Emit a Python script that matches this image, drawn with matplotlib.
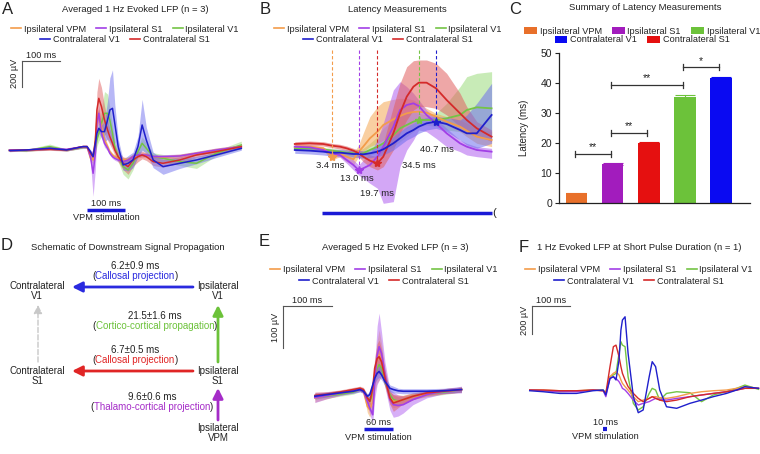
import matplotlib.pyplot as plt
from matplotlib.lines import Line2D
from matplotlib.patches import Patch

plt.rcParams['font.family'] = ['Liberation Sans', 'DejaVu Sans']
plt.rcParams['text.color'] = '#222222'
plt.rcParams['axes.labelcolor'] = '#222222'
plt.rcParams['ytick.color'] = '#222222'

W, H = 760, 454

# ---------------- data ----------------
names = ['Ipsilateral VPM', 'Ipsilateral S1', 'Ipsilateral V1', 'Contralateral V1', 'Contralateral S1']
line_col = ['#F39C4A', '#A23FE6', '#74C445', '#1F1FCC', '#D42A2A']
band_col = ['#F5A855', '#B060F0', '#9CDC7C', '#7070EE', '#E06060']
bar_col = ['#E8702A', '#A21CBD', '#6CC23A', '#0A0AF2', '#E51010']

# A: averaged 1 Hz evoked LFP (ms, uV)
t_a = [-204, -160, -98, -54, -11, 0, 9, 16, 22, 26, 31, 38, 46, 54, 60, 67, 73, 82, 95, 108,
       121, 134, 145, 156, 174, 200, 244, 288, 340, 406]
a_vpm = [0, 0, 10, 0, 26, 26, -65, -78, 78, 234, 260, 182, 78, 26, -13, -39, -52, -65, -78, -73,
         -52, -47, -39, -39, -52, -57, -47, -26, 0, 26]
a_s1 = [0, 0, 13, 5, 26, 26, -52, -182, -26, 208, 286, 130, 52, 13, -26, -52, -65, -78, -91, -78,
        -52, -39, -39, -39, -52, -52, -47, -26, 0, 26]
a_v1 = [0, -5, 26, 0, 21, 21, -26, -52, 0, 78, 130, 208, 286, 286, 234, 130, 26, -52, -130, -156,
        -104, -13, 52, 13, -52, -65, -91, -104, -26, 39]
a_cv1 = [-5, 0, 13, 0, 26, 26, -13, -52, 52, 130, 169, 143, 143, 234, 312, 325, 208, 26, -117, -104,
         -78, 26, 195, 78, -78, -130, -104, -78, -39, 13]
a_cs1 = [-5, 0, 5, 0, 26, 26, -26, -52, 78, 312, 403, 338, 234, 156, 104, 52, 0, -52, -104, -130,
         -78, -52, -39, -52, -91, -104, -78, -39, -13, 26]
a_vpm_sd = [8, 8, 8, 8, 10, 10, 20, 30, 50, 60, 60, 50, 30, 20, 15, 15, 15, 15, 20, 20,
            15, 15, 15, 15, 15, 15, 15, 15, 15, 15]
a_s1_sd = [8, 8, 8, 8, 10, 10, 40, 180, 120, 60, 60, 40, 30, 20, 15, 15, 15, 15, 15, 15,
           15, 15, 15, 15, 15, 15, 15, 15, 15, 15]
a_v1_sd = [8, 8, 20, 8, 10, 10, 15, 20, 30, 50, 60, 100, 170, 150, 100, 60, 40, 40, 60, 70,
           50, 30, 50, 40, 30, 30, 30, 40, 20, 30]
a_cv1_sd = [8, 8, 10, 8, 10, 10, 15, 20, 30, 40, 40, 50, 80, 150, 250, 300, 150, 60, 40, 60,
            60, 80, 200, 100, 60, 60, 40, 30, 20, 15]
a_cs1_sd = [8, 8, 8, 8, 10, 10, 20, 30, 60, 140, 156, 150, 110, 80, 60, 50, 40, 40, 50, 60,
            50, 40, 30, 30, 30, 30, 25, 20, 15, 15]

# B: latency measurements (ms, uV)
t_b = [-9.9, -4.5, 0.3, 3.4, 6.3, 8.7, 11.1, 13.0, 14.6, 17.0, 19.7, 21.8, 25.4, 27.8, 30.2,
       32.6, 34.5, 37.3, 40.7, 44.5, 49.3, 51.7, 55.3, 60.6]
b_vpm = [0, 0, -5, -30, -22, -30, -38, -15, 0, 25, 45, 65, 82, 92, 100, 104, 105, 102, 90, 75, 60, 48, 30, 20]
b_vpm_hi = [5, 5, 0, -20, -15, -15, -20, 5, 40, 90, 120, 135, 142, 145, 145, 140, 130, 115, 100, 90, 80, 70, 55, 45]
b_vpm_lo = [-5, -5, -10, -40, -30, -45, -55, -30, -15, 0, 10, 20, 30, 45, 55, 70, 80, 85, 80, 65, 45, 30, 10, 0]
b_s1 = [0, -2, -10, -20, -25, -40, -55, -70, -65, -55, -30, 0, 60, 110, 125, 130, 122, 95, 70, 40, 10, 0, -10, -15]
b_s1_hi = [5, 3, -5, -15, -18, -30, -40, -55, -40, -20, 20, 70, 170, 195, 180, 160, 140, 110, 85, 55, 20, 10, 0, -5]
b_s1_lo = [-5, -7, -15, -25, -32, -50, -70, -85, -95, -110, -125, -170, -165, -60, -10, 20, 50, 45, 25, 0, -15, -25, -30, -35]
b_v1 = [-5, -5, -8, -12, -15, -18, -20, -22, -20, -10, 0, 10, 35, 55, 65, 75, 80, 80, 80, 85, 95, 110, 118, 115]
b_v1_hi = [0, 0, -3, -5, -8, -10, -10, -10, -5, 10, 30, 55, 80, 95, 100, 105, 100, 95, 100, 130, 180, 210, 220, 225]
b_v1_lo = [-10, -10, -13, -18, -22, -25, -30, -32, -30, -25, -20, -15, 0, 15, 30, 45, 60, 65, 60, 50, 45, 40, 30, 20]
b_cv1 = [-10, -12, -15, -18, -18, -20, -22, -22, -23, -20, -15, -8, 10, 25, 40, 50, 60, 70, 75, 68, 50, 40, 40, 95]
b_cv1_hi = [0, -2, -5, -8, -8, -10, -12, -12, -12, -8, 0, 10, 30, 45, 60, 70, 80, 88, 90, 88, 80, 95, 130, 190]
b_cv1_lo = [-20, -22, -25, -28, -28, -30, -32, -33, -35, -33, -30, -25, -10, 5, 20, 30, 40, 50, 55, 45, 20, 5, -5, 10]
b_cs1 = [8, 10, 8, 3, 0, -5, -12, -20, -30, -42, -50, -30, 40, 100, 150, 180, 192, 192, 175, 140, 100, 80, 55, 30]
b_cs1_hi = [15, 17, 15, 10, 7, 2, -5, -10, -15, -25, -30, 10, 120, 190, 240, 258, 260, 260, 250, 220, 160, 120, 75, 50]
b_cs1_lo = [2, 3, 2, -3, -7, -12, -20, -30, -45, -60, -70, -60, -10, 40, 80, 110, 120, 120, 115, 95, 60, 45, 35, 15]
lat_ms = [3.4, 13.0, 34.5, 40.7, 19.7]          # same order as names
lat_amp = [-30, -70, 80, 75, -50]
lat_txt = ['3.4 ms', '13.0 ms', '34.5 ms', '40.7 ms', '19.7 ms']

# C: summary of latencies
c_lat = [3.2, 13.0, 20.0, 35.5, 41.6]
c_err = [0.25, 0.2, 0.35, 0.5, 0.25]
c_idx = [0, 1, 4, 2, 3]   # bar order: VPM, S1, contra S1, V1, contra V1
sig_pairs = [(0, 1), (1, 2), (1, 3), (3, 4)]
sig_h = [16.4, 23.5, 39.4, 45.2]
sig_txt = ['**', '**', '**', '*']

# D: schematic
prop_ms = ['6.2±0.9 ms', '21.5±1.6 ms', '6.7±0.5 ms', '9.6±0.6 ms']
prop_name = ['Callosal projection', 'Cortico-cortical propagation', 'Callosal projection', 'Thalamo-cortical projection']
prop_col = ['#2A2ADF', '#6CC23A', '#E02525', '#A52CC8']

# E: averaged 5 Hz evoked LFP
t_e = [-100, -76, -49, -22, -8, -1, 7, 12, 18, 22, 27, 31, 36, 43, 53, 60, 70, 80, 100, 128, 162, 199]
e_vpm = [-14, -8, -2, 3, 8, 2, -34, -42, -22, 33, 72, 88, 76, 33, -14, -22, -22, -18, -10, -5, 2, 6]
e_s1 = [-13, -8, -2, 3, 6, 2, -22, -38, -54, 25, 88, 108, 92, 41, -18, -30, -32, -30, -18, -6, 2, 6]
e_v1 = [-10, -9, -5, 0, 6, 2, -14, -22, -6, 33, 57, 65, 57, 25, -6, -18, -22, -18, -10, -5, 0, 6]
e_cv1 = [-10, -6, -2, 2, 6, 2, -10, -6, 17, 33, 45, 49, 41, 25, 9, 6, 3, 2, 2, 2, 3, 6]
e_cs1 = [-8, -5, 0, 6, 9, 6, -14, -22, 9, 57, 80, 84, 72, 33, -14, -26, -22, -18, -10, -2, 2, 6]
e_vpm_sd = [10, 8, 6, 5, 5, 5, 15, 18, 15, 30, 50, 60, 40, 20, 15, 15, 12, 10, 8, 6, 6, 6]
e_s1_sd = [12, 8, 6, 5, 5, 5, 10, 15, 20, 40, 70, 80, 50, 30, 25, 30, 25, 20, 12, 8, 6, 8]
e_v1_sd = [8, 6, 5, 5, 5, 5, 8, 10, 10, 15, 20, 20, 15, 10, 10, 12, 10, 8, 6, 6, 6, 6]
e_cv1_sd = [6, 6, 5, 5, 5, 5, 6, 8, 10, 12, 14, 14, 12, 10, 8, 8, 6, 6, 6, 6, 6, 6]
e_cs1_sd = [8, 6, 5, 5, 5, 5, 8, 10, 15, 25, 35, 40, 30, 20, 15, 20, 15, 10, 8, 6, 6, 6]

# F: 1 Hz evoked LFP, short pulse (n = 1)
t_f = [-195, -159, -115, -71, -27, 0, 7, 18, 27, 34, 42, 47, 51, 58, 66, 80, 93, 106, 122, 130,
       139, 150, 168, 195, 230, 261, 292, 327, 354, 376, 412]
f_vpm = [0, 0, -5, -5, 0, -5, -19, 94, 118, 129, 106, 71, 47, 24, 0, -47, -82, -71, -59, -47,
         -47, -54, -59, -47, -24, -12, -5, 0, 12, 24, 12]
f_s1 = [0, -5, -12, -12, 0, -5, -47, 82, 94, 82, 59, 35, 12, 0, -24, -71, -106, -94, -82, -71,
        -59, -66, -71, -59, -47, -35, -24, -12, 0, 12, 12]
f_v1 = [0, -5, -12, -7, 0, 0, -24, 94, 106, 118, 259, 341, 317, 306, 94, -94, -141, -118, -24, 12,
        0, -71, -24, -12, -19, -82, -35, -12, 12, 35, 5]
f_cv1 = [-5, -12, -24, -24, -5, 0, -35, 82, 94, 71, 212, 423, 494, 517, 259, -47, -160, -141, 94, 200,
         165, 0, -118, -129, -94, -71, -47, -24, 0, 24, 12]
f_cs1 = [0, 0, -5, -5, 0, -5, -24, 165, 306, 317, 235, 165, 118, 71, 24, -24, -59, -82, -59, -47,
         -59, -71, -82, -71, -47, -35, -24, -12, 0, 12, 12]

# ---------------- helpers ----------------
fig = plt.figure(figsize=(7.6, 4.54), dpi=100)
ov = fig.add_axes([0, 0, 1, 1], zorder=5)
ov.set_xlim(0, W)
ov.set_ylim(H, 0)
ov.axis('off')


def px_axes(x0, y0, x1, y1, xlim, ylim):
    ax = fig.add_axes([x0 / W, 1 - y1 / H, (x1 - x0) / W, (y1 - y0) / H])
    ax.set_xlim(*xlim)
    ax.set_ylim(*ylim)
    ax.axis('off')
    return ax


def legend_rows(cx, y1, y2, patches=False):
    if patches:
        hs = [Patch(facecolor=c, edgecolor='none') for c in bar_col]
    else:
        hs = [Line2D([], [], color=c, lw=1.2) for c in line_col]
    for sl, cy in ((slice(0, 3), y1), (slice(3, 5), y2)):
        fig.legend(hs[sl], names[sl], loc='center', bbox_to_anchor=(cx / W, 1 - cy / H),
                   ncol=len(names[sl]), frameon=False, fontsize=6.6,
                   handlelength=1.4 if patches else 1.1, handleheight=0.9,
                   handletextpad=0.3, columnspacing=1.1, borderpad=0, borderaxespad=0)


def draw_traces(ax, t, ys, los=None, his=None, lw=1.0, alpha=0.5):
    order = [2, 0, 1, 4, 3]
    if los is not None:
        for i in order:
            ax.fill_between(t, los[i], his[i], color=band_col[i], alpha=alpha, lw=0)
    for i in order:
        ax.plot(t, ys[i], color=line_col[i], lw=lw)


def sd_bounds(ys, sds):
    lo = [[v - s for v, s in zip(y, sd)] for y, sd in zip(ys, sds)]
    hi = [[v + s for v, s in zip(y, sd)] for y, sd in zip(ys, sds)]
    return lo, hi


def scalebar(ax, t0, v0, dt, dv, tlab, vlab):
    ax.plot([t0, t0 + dt], [v0, v0], color='#555555', lw=0.8)
    ax.plot([t0, t0], [v0, v0 - dv], color='#555555', lw=0.8)
    ax.annotate(tlab, (t0 + dt / 2, v0), xytext=(0, 1), textcoords='offset points',
                ha='center', va='bottom', fontsize=6.6)
    ax.annotate(vlab, (t0, v0 - dv / 2), xytext=(-5.5, 0), textcoords='offset points',
                ha='center', va='center', rotation=90, fontsize=6.6)


def stim(ax, dur, v, lab, lw=2.5):
    ax.plot([0, dur], [v, v], color='#1A1AD6', lw=lw, solid_capstyle='butt')
    ax.annotate(lab, (dur / 2, v), xytext=(0, 1.5), textcoords='offset points',
                ha='center', va='bottom', fontsize=6.6)
    ax.annotate('VPM stimulation', (dur / 2, v), xytext=(0, -2.5), textcoords='offset points',
                ha='center', va='top', fontsize=6.6)


def letter(x, y, s):
    ov.text(x, y, s, ha='center', va='center', fontsize=12)


def title(x, y, s):
    ov.text(x, y, s, ha='center', va='center', fontsize=6.8)


# ---------------- A ----------------
letter(8, 10, 'A')
title(135, 9, 'Averaged 1 Hz Evoked LFP (n = 3)')
legend_rows(125, 29, 40)
axa = px_axes(0, 45, 255, 222, (-229, 442), (-562, 819))
ys = [a_vpm, a_s1, a_v1, a_cv1, a_cs1]
lo, hi = sd_bounds(ys, [a_vpm_sd, a_s1_sd, a_v1_sd, a_cv1_sd, a_cs1_sd])
draw_traces(axa, t_a, ys, lo, hi, lw=1.1)
scalebar(axa, -171, 694, 100, 200, '100 ms', '200 µV')
stim(axa, 100, -468, '100 ms')

# ---------------- B ----------------
letter(265, 9, 'B')
title(397, 9, 'Latency Measurements')
legend_rows(388, 29, 40)
axb = px_axes(285, 45, 505, 222, (-13.4, 65.4), (-226, 305))
ys = [b_vpm, b_s1, b_v1, b_cv1, b_cs1]
draw_traces(axb, t_b, ys, [b_vpm_lo, b_s1_lo, b_v1_lo, b_cv1_lo, b_cs1_lo],
            [b_vpm_hi, b_s1_hi, b_v1_hi, b_cv1_hi, b_cs1_hi], lw=1.3, alpha=0.55)
lab_off = [(-1.5, -6.5), (-1.5, -6), (0, -33), (0.5, -20), (0, -21.5)]
for i in range(5):
    axb.plot([lat_ms[i], lat_ms[i]], [290, lat_amp[i]], color=line_col[i], lw=0.8, dashes=(3, 2))
    axb.plot(lat_ms[i], lat_amp[i], marker='*', ms=6, color=line_col[i])
    axb.annotate(lat_txt[i], (lat_ms[i], lat_amp[i]), xytext=lab_off[i], textcoords='offset points',
                 ha='center', va='center', fontsize=6.8)
axb.plot([0, t_b[-1]], [-199, -199], color='#1A1AD6', lw=2.5, solid_capstyle='butt')
axb.text(t_b[-1] + 0.1, -199, '(', ha='left', va='center', fontsize=8)

# ---------------- C ----------------
letter(515, 10, 'C')
title(645, 8, 'Summary of Latency Measurements')
legend_rows(642, 31, 40, patches=True)
axc = fig.add_axes([559 / W, 1 - 203 / H, 191 / W, 150 / H])
xs = list(range(5))
cols = [bar_col[i] for i in c_idx]
axc.bar(xs, c_lat, width=0.6, color=cols)
for x, v, e, c in zip(xs, c_lat, c_err, cols):
    axc.errorbar(x, v, yerr=e, color=c, capsize=7, elinewidth=0.8, capthick=0.8)
for (a, b), h, s in zip(sig_pairs, sig_h, sig_txt):
    x0, x1 = a - 0.05, b - 0.05
    axc.plot([x0, x1], [h, h], color='#333333', lw=0.9)
    axc.plot([x0, x0], [h - 1, h + 1], color='#333333', lw=0.9)
    axc.plot([x1, x1], [h - 1, h + 1], color='#333333', lw=0.9)
    axc.text((x0 + x1) / 2, h + 0.6, s, ha='center', va='bottom', fontsize=7.5)
axc.set_xlim(-0.48, 4.8)
axc.set_ylim(0, 50)
axc.set_yticks([0, 10, 20, 30, 40, 50])
axc.set_xticks([])
axc.tick_params(axis='y', labelsize=7.5, length=3, width=0.8, pad=2)
for sp in ('top', 'right'):
    axc.spines[sp].set_visible(False)
for sp in ('left', 'bottom'):
    axc.spines[sp].set_linewidth(0.9)
    axc.spines[sp].set_color('#222222')
axc.set_ylabel('Latency (ms)', fontsize=7)
axc.yaxis.set_label_coords(-0.155, 0.5)

# ---------------- D ----------------
letter(7, 245, 'D')
title(128, 247, 'Schematic of Downstream Signal Propagation')
nodes = [('Contralateral\nV1', 37, 291), ('Ipsilateral\nV1', 218, 291),
         ('Contralateral\nS1', 37, 376), ('Ipsilateral\nS1', 218, 376),
         ('Ipsilateral\nVPM', 218, 433)]
for s, x, y in nodes:
    ov.text(x, y, s, ha='center', va='center', fontsize=7, linespacing=1.05)
arrows = [((193, 287), (72, 287)), ((218, 362), (218, 305)),
          ((193, 371), (72, 371)), ((218, 420), (218, 388))]
for (tail, head), c in zip(arrows, prop_col):
    ov.annotate('', xy=head, xytext=tail,
                arrowprops=dict(arrowstyle='-|>,head_length=0.6,head_width=0.3', color=c, lw=2,
                                shrinkA=0, shrinkB=0))
ov.annotate('', xy=(38, 305), xytext=(38, 362),
            arrowprops=dict(arrowstyle='-|>,head_length=0.5,head_width=0.25', color='#C8C8C8', lw=1,
                            ls='--', shrinkA=0, shrinkB=0))
lab_pos = [(135, 266), (155, 316), (135, 350), (152, 397)]
for (x, y), ms, nm, c in zip(lab_pos, prop_ms, prop_name, prop_col):
    ov.text(x, y, ms, ha='center', va='center', fontsize=7)
    mid = ov.text(x, y + 10, nm, ha='center', va='center', fontsize=7, color=c)
    ov.annotate('(', xy=(0, 0), xycoords=mid, ha='right', va='bottom', fontsize=7)
    ov.annotate(')', xy=(1, 0), xycoords=mid, ha='left', va='bottom', fontsize=7)

# ---------------- E ----------------
letter(264, 241, 'E')
title(395, 248, 'Averaged 5 Hz Evoked LFP (n = 3)')
legend_rows(384, 270, 281)
axe = px_axes(260, 290, 510, 445, (-212, 298), (-126, 243))
ys = [e_vpm, e_s1, e_v1, e_cv1, e_cs1]
lo, hi = sd_bounds(ys, [e_vpm_sd, e_s1_sd, e_v1_sd, e_cv1_sd, e_cs1_sd])
draw_traces(axe, t_e, ys, lo, hi, lw=1.2)
scalebar(axe, -165, 205, 100, 100, '100 ms', '100 µV')
stim(axe, 60, -88, '60 ms')

# ---------------- F ----------------
letter(524, 247, 'F')
title(639, 247, '1 Hz Evoked LFP at Short Pulse Duration (n = 1)')
legend_rows(639, 270, 281)
axf = px_axes(515, 290, 760, 445, (-234, 416), (-388, 706))
draw_traces(axf, t_f, [f_vpm, f_s1, f_v1, f_cv1, f_cs1], lw=1.0)
scalebar(axf, -189, 593, 100, 200, '100 ms', '200 µV')
stim(axf, 10, -275, '10 ms', lw=3)

fig.savefig('out.png', dpi=100)
